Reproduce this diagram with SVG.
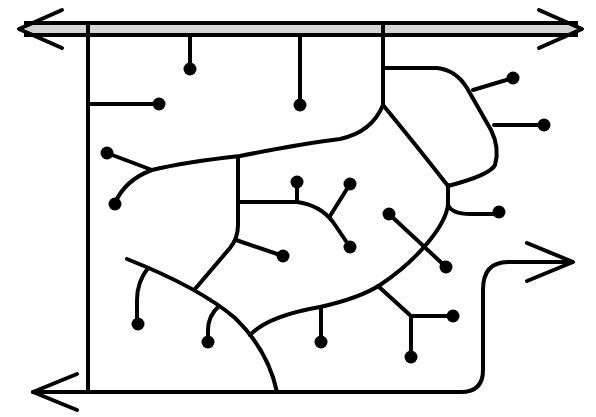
<svg xmlns="http://www.w3.org/2000/svg" width="596" height="417" viewBox="0 0 596 417">
<style>
.l{fill:none;stroke:#000;stroke-width:4;stroke-linecap:round;stroke-linejoin:round}
.b{fill:none;stroke:#000;stroke-width:4}
.d{fill:#000}
</style>
<rect width="596" height="417" fill="#fff"/>
<g id="frame">
  <rect x="26" y="24" width="550" height="10" fill="#d4d4d4"/>
  <line class="b" x1="24" y1="23" x2="578" y2="23"/>
  <line class="b" x1="24" y1="35" x2="578" y2="35"/>
  <polyline class="l" points="62,10 19,29 62,48"/>
  <polyline class="l" points="539,10 582,29 539,48"/>
  <line class="l" x1="88" y1="23" x2="88" y2="392"/>
  <path class="l" d="M33,392 H461 Q483,392 483,370 V290 Q483,262 508,262 H572"/>
  <polyline class="l" points="77,374 33,392 77,410"/>
  <polyline class="l" points="527,243 573,262 527,281"/>
</g>
<g id="connectors">
  <line class="l" x1="190" y1="35" x2="190" y2="69"/>
  <line class="l" x1="88" y1="104" x2="159" y2="104"/>
  <line class="l" x1="300" y1="35" x2="300" y2="105"/>
  <line class="l" x1="383" y1="23" x2="383" y2="105"/>
  <path class="l" d="M383,105 Q372,132 340,139 Q300,144 240,156 Q185,162 152,170"/>
  <line class="l" x1="152" y1="170" x2="107" y2="153"/>
  <path class="l" d="M152,170 Q125,180 115,203"/>
  <path class="l" d="M238,157 V225 Q238,238 230,248 L195,289"/>
  <line class="l" x1="238" y1="202" x2="297" y2="202"/>
  <path class="l" d="M297,202 Q320,205 333,222 L350,247"/>
  <line class="l" x1="297" y1="202" x2="297" y2="182"/>
  <line class="l" x1="330" y1="216" x2="350" y2="184"/>
  <line class="l" x1="236" y1="240" x2="283" y2="256"/>
  <path class="l" d="M127,259 Q200,288 235,318 Q268,350 277,392"/>
  <path class="l" d="M148,268 Q137,282 137,300 V324"/>
  <path class="l" d="M219,306 Q208,316 208,330 V342"/>
  <path class="l" d="M250,335 Q268,316 320,307 Q360,298 380,285 Q410,265 430,240 Q446,220 448,205 V185"/>
  <line class="l" x1="321" y1="307" x2="321" y2="342"/>
  <polyline class="l" points="378,286 411,316 453,316"/>
  <line class="l" x1="411" y1="316" x2="411" y2="357"/>
  <line class="l" x1="389" y1="214" x2="446" y2="267"/>
  <path class="l" d="M448,205 Q452,214 470,214 H499"/>
  <path class="l" d="M383,105 Q420,150 448,186"/>
  <path class="l" d="M383,68 H437 Q456,70 467,88 L491,130 Q500,148 495,165 Q490,175 448,186"/>
  <line class="l" x1="473" y1="90" x2="513" y2="78"/>
  <line class="l" x1="494" y1="125" x2="544" y2="125"/>
</g>
<g id="nodes">
  <circle id="n1" class="d" cx="190" cy="69" r="6.5"/>
  <circle id="n2" class="d" cx="159" cy="104" r="6.5"/>
  <circle id="n3" class="d" cx="300" cy="105" r="6.5"/>
  <circle id="n4" class="d" cx="107" cy="153" r="6.5"/>
  <circle id="n5" class="d" cx="115" cy="204" r="6.5"/>
  <circle id="n6" class="d" cx="297" cy="182" r="6.5"/>
  <circle id="n7" class="d" cx="350" cy="184" r="6.5"/>
  <circle id="n8" class="d" cx="350" cy="247" r="6.5"/>
  <circle id="n9" class="d" cx="283" cy="256" r="6.5"/>
  <circle id="n10" class="d" cx="389" cy="214" r="6.5"/>
  <circle id="n11" class="d" cx="446" cy="267" r="6.5"/>
  <circle id="n12" class="d" cx="499" cy="212" r="6.5"/>
  <circle id="n13" class="d" cx="513" cy="78" r="6.5"/>
  <circle id="n14" class="d" cx="544" cy="125" r="6.5"/>
  <circle id="n15" class="d" cx="138" cy="324" r="6.5"/>
  <circle id="n16" class="d" cx="208" cy="342" r="6.5"/>
  <circle id="n17" class="d" cx="321" cy="342" r="6.5"/>
  <circle id="n18" class="d" cx="453" cy="316" r="6.5"/>
  <circle id="n19" class="d" cx="411" cy="357" r="6.5"/>
</g>
</svg>
